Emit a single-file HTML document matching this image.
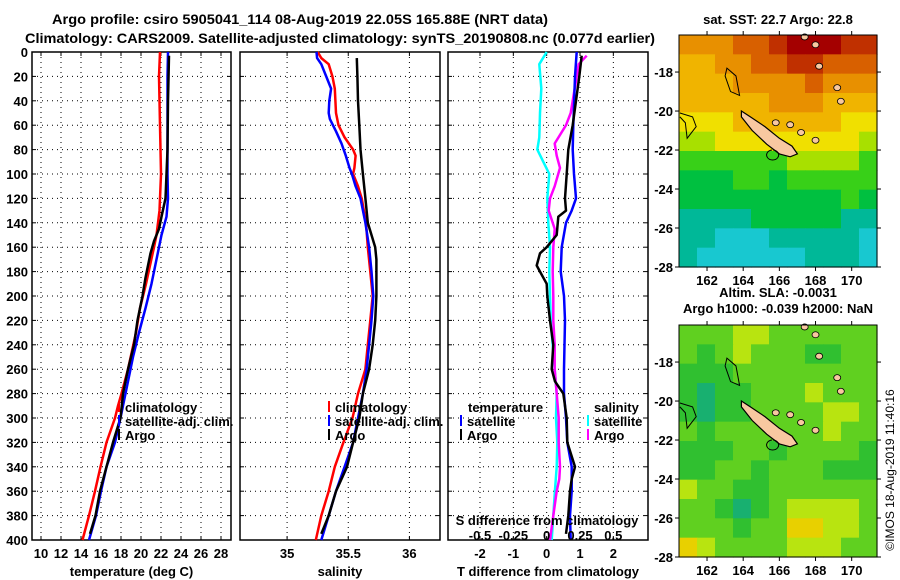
<!DOCTYPE html>
<html><head><meta charset="utf-8"><style>
html,body{margin:0;padding:0;background:#fff;}
svg{display:block;font-family:"Liberation Sans",sans-serif;font-weight:bold;}
</style></head><body>
<svg id="fig" width="900" height="580" viewBox="0 0 900 580" xmlns="http://www.w3.org/2000/svg">
<rect width="900" height="580" fill="#fff"/>
<text x="300" y="24" font-size="14" text-anchor="middle" textLength="496" lengthAdjust="spacingAndGlyphs">Argo profile: csiro 5905041_114 08-Aug-2019 22.05S 165.88E (NRT data)</text>
<text x="340" y="43" font-size="14" text-anchor="middle" textLength="630" lengthAdjust="spacingAndGlyphs">Climatology: CARS2009. Satellite-adjusted climatology: synTS_20190808.nc (0.077d earlier)</text>
<g id="plots"></g>
<text transform="translate(894,470) rotate(-90)" font-size="12" font-weight="normal" text-anchor="middle">©IMOS 18-Aug-2019 11:40:16</text>
</svg>
<script>
// ---------- data ----------
const depthTicks = [0,20,40,60,80,100,120,140,160,180,200,220,240,260,280,300,320,340,360,380,400];
const tempTicks = [10,12,14,16,18,20,22,24,26,28];
const salTicks = [35,35.5,36];
const salTickLabels = ["35","35.5","36"];
const tdiffTicks = [-2,-1,0,1,2];
const sdiffTicks = [-0.5,-0.25,0,0.25,0.5];
const sdiffTickLabels = ["-0.5","-0.25","0","0.25","0.5"];

const climTDepth = [0,20,100,130,150,160,175,190,210,230,260,280,290,300,320,340,360,380,400];
const climTVal   = [21.9,21.8,22.0,21.85,21.55,21.3,20.9,20.5,19.9,19.5,18.7,18.05,17.7,17.4,16.55,15.95,15.4,14.8,14.15];
const satTDepth = [0,20,100,120,135,150,170,190,210,230,250,270,290,300,320,340,360,380,400];
const satTVal   = [22.7,22.65,22.65,22.7,22.55,22.05,21.55,21.05,20.45,19.8,19.2,18.7,18.2,17.95,17.4,16.55,16.0,15.5,14.8];
const argoTDepth = [3,40,80,120,135,145,155,165,175,185,200,220,240,260,280,300,320,340,360,380,395];
const argoTVal   = [22.8,22.7,22.65,22.45,22.05,21.8,21.3,20.95,20.7,20.45,20.15,19.65,19.3,18.7,18.2,17.95,17.2,16.55,15.9,15.45,14.9];

const climSDepth = [0,5,10,20,30,50,60,70,80,85,95,100,110,120,140,160,180,200,220,240,260,280,300,320,340,360,380,400];
const climSVal   = [35.25,35.28,35.34,35.37,35.39,35.40,35.42,35.47,35.54,35.56,35.55,35.54,35.58,35.61,35.645,35.66,35.68,35.70,35.68,35.66,35.64,35.58,35.535,35.46,35.39,35.34,35.28,35.235];
const satSDepth = [0,5,10,20,30,40,50,55,65,75,85,95,100,110,120,140,160,180,200,220,240,260,280,300,320,340,360,380,400];
const satSVal   = [35.24,35.245,35.28,35.32,35.36,35.345,35.34,35.35,35.40,35.445,35.48,35.51,35.53,35.56,35.60,35.64,35.67,35.69,35.705,35.69,35.67,35.65,35.62,35.58,35.54,35.47,35.40,35.34,35.28];
const argoSDepth = [5,20,40,60,80,100,120,140,160,170,200,220,240,260,280,300,320,340,360,380,395];
const argoSVal   = [35.57,35.575,35.58,35.59,35.60,35.62,35.64,35.66,35.72,35.73,35.73,35.72,35.70,35.67,35.62,35.59,35.54,35.49,35.40,35.34,35.28];

const satTdDepth = [0,20,60,80,100,120,130,140,160,180,200,220,260,280,300,320,340,360,380,400];
const satTdVal   = [0.9,0.85,0.8,0.78,0.82,0.88,0.75,0.58,0.45,0.42,0.52,0.55,0.52,0.52,0.58,0.62,0.75,0.75,0.70,0.72];
const argoTdDepth = [3,20,40,60,80,100,120,130,135,150,160,165,175,180,190,200,220,240,260,270,280,300,320,340,350,360,380,395];
const argoTdVal   = [1.05,0.98,0.88,0.78,0.65,0.6,0.55,0.58,0.35,0.3,0.0,-0.2,-0.3,-0.2,0.0,0.02,0.1,0.2,0.15,0.25,0.5,0.6,0.62,0.85,0.75,0.7,0.65,0.58];
const satSdDepth = [0,10,30,50,70,80,90,100,120,140,160,180,200,220,240,260,280,300,320,340,360,380,400];
const satSdVal   = [0,-0.055,-0.04,-0.05,-0.055,-0.07,-0.025,0.02,0.005,0.012,0.025,0.02,0.025,0.03,0.045,0.06,0.075,0.07,0.08,0.075,0.062,0.05,0.038];
const argoSdDepth = [3,10,30,50,60,75,85,95,110,120,130,145,160,180,200,220,240,260,280,300,320,340,350,360,380,400];
const argoSdVal   = [0.3,0.24,0.21,0.18,0.145,0.06,0.075,0.1,0.06,0.025,0.015,0.06,0.05,0.045,0.05,0.05,0.06,0.06,0.075,0.09,0.09,0.1,0.095,0.075,0.05,0.025];

const lonTicks = [162,164,166,168,170];
const latTicks = [-18,-20,-22,-24,-26,-28];
const sstGrid = [
 [7,7,7,8,8,9,10,10,10,9,9],
 [6,6,7,7,8,8,9,9,8,8,8],
 [6,6,6,7,7,7,7,8,7,7,7],
 [6,6,6,6,6,7,7,7,6,6,6],
 [5,5,5,6,6,6,6,6,6,5,5],
 [4,4,5,5,5,5,5,5,5,5,4],
 [3,3,3,3,3,3,4,4,4,4,3],
 [2,2,2,3,3,2,3,3,3,3,3],
 [2,2,2,2,2,2,2,2,2,3,2],
 [1,1,1,1,2,2,2,2,2,1,1],
 [1,1,0,0,0,1,1,1,1,1,0],
 [1,0,0,0,0,0,0,1,1,1,0]];
const slaGrid = [
 [2,2,2,3,3,2,2,2,2,2,2],
 [2,1,2,3,2,2,2,1,1,2,2],
 [1,1,1,2,2,2,2,2,2,2,2],
 [1,0,1,1,2,2,2,3,2,2,2],
 [1,0,1,1,2,2,2,2,3,3,2],
 [2,1,2,2,2,2,2,2,3,2,2],
 [1,1,1,2,2,1,2,2,2,2,1],
 [1,1,2,2,1,2,2,2,1,1,1],
 [3,2,2,1,1,2,2,2,2,2,2],
 [2,2,1,0,1,2,3,3,3,3,2],
 [2,2,2,1,2,2,4,4,3,3,2],
 [4,3,2,2,2,2,3,3,3,2,2]];
const sstColors = ["#18c8d0","#00b898","#00c040","#38d018","#a8e000","#f0e000","#f0b400","#e89000","#d86000","#c03000","#a40000"];
const slaColors = ["#18b070","#30c030","#60d020","#b8e410","#e8d000"];

// ---------- helpers ----------
const NS = "http://www.w3.org/2000/svg";
const root = document.getElementById("plots");
function mk(tag, attrs, parent){ const e=document.createElementNS(NS,tag); for(const k in attrs) e.setAttribute(k,attrs[k]); (parent||root).appendChild(e); return e; }
function txt(x,y,s,size,anchor,parent){ const t=mk("text",{x:x,y:y,"font-size":size,"text-anchor":anchor||"middle"},parent); t.textContent=s; return t; }

const PT=52, PB=540;
const yD = d => PT + d*(PB-PT)/400;

function panel(name, x0, x1, xmin, xmax, ticks, tickLabels, xlabel, showDepth){
  const g = mk("g",{});
  
  
  const xs = v => x0 + (v-xmin)*(x1-x0)/(xmax-xmin);
  depthTicks.forEach(d=>{ if(d>0&&d<400){ const l=mk("line",{x1:x0,x2:x1,y1:yD(d),y2:yD(d),stroke:"#000","stroke-width":1,"stroke-dasharray":"1,4"},g);
      }
    mk("line",{x1:x0,x2:x0+4,y1:yD(d),y2:yD(d),stroke:"#000"},g); mk("line",{x1:x1-4,x2:x1,y1:yD(d),y2:yD(d),stroke:"#000"},g);
    if(showDepth){ const t=txt(28,yD(d)+5,String(d),13,"end",g);
        } });
  ticks.forEach((v,i)=>{ const x=xs(v);
    const l=mk("line",{x1:x,x2:x,y1:PT,y2:PB,stroke:"#000","stroke-width":1,"stroke-dasharray":"1,4"},g);
     
    mk("line",{x1:x,x2:x,y1:PT,y2:PT+4,stroke:"#000"},g); mk("line",{x1:x,x2:x,y1:PB-4,y2:PB,stroke:"#000"},g);
    const t=txt(x,558,tickLabels[i],13,"middle",g);
      });
  const fr=mk("rect",{x:x0,y:PT,width:x1-x0,height:PB-PT,fill:"none",stroke:"#000","stroke-width":1.5},g);
   
  const xl=txt((x0+x1)/2,576,xlabel,13,"middle",g);
   
  return {g,xs};
}
function series(p, depths, vals, color, name, xsFn){
  const f = xsFn || p.xs;
  let d=""; depths.forEach((dp,i)=>{ d+=(i?"L":"M")+f(vals[i]).toFixed(1)+","+yD(dp).toFixed(1); });
  const path=mk("path",{d:d,fill:"none",stroke:color,"stroke-width":2.5,"stroke-linejoin":"round"},p.g);
  
  
}
function legend(g, x, y, color, label){
  mk("line",{x1:x,x2:x,y1:y-11,y2:y,stroke:color,"stroke-width":2},g);
  const t=txt(x+6,y,label,13,"start",g);
  
  
}

const p1 = panel("temperature-panel",32,231,9.1,29,tempTicks,tempTicks.map(String),"temperature (deg C)",true);
series(p1,climTDepth,climTVal,"#f00","climatology-temp-line");
series(p1,satTDepth,satTVal,"#00f","satellite-temp-line");
series(p1,argoTDepth,argoTVal,"#000","argo-temp-line");
legend(p1.g,119,412,"#f00","climatology");
legend(p1.g,119,426,"#00f","satellite-adj. clim.");
legend(p1.g,119,440,"#000","Argo");

const p2 = panel("salinity-panel",240,440,34.615,36.25,salTicks,salTickLabels,"salinity",false);
series(p2,climSDepth,climSVal,"#f00","climatology-salinity-line");
series(p2,satSDepth,satSVal,"#00f","satellite-salinity-line");
series(p2,argoSDepth,argoSVal,"#000","argo-salinity-line");
legend(p2.g,329,412,"#f00","climatology");
legend(p2.g,329,426,"#00f","satellite-adj. clim.");
legend(p2.g,329,440,"#000","Argo");

const p3 = panel("difference-panel",448,648,-2.96,3.04,tdiffTicks,tdiffTicks.map(String),"T difference from climatology",false);
const xsS = v => p3.xs(v*4);
series(p3,satSdDepth,satSdVal,"#0ff","satellite-salinity-diff-line",xsS);
series(p3,argoSdDepth,argoSdVal,"#f0f","argo-salinity-diff-line",xsS);
series(p3,satTdDepth,satTdVal,"#00f","satellite-temp-diff-line");
series(p3,argoTdDepth,argoTdVal,"#000","argo-temp-diff-line");
(function(){ const t=txt(468,412,"temperature",13,"start",p3.g);  
 const s=txt(594,412,"salinity",13,"start",p3.g);  })();
legend(p3.g,461,426,"#00f","satellite");
legend(p3.g,461,440,"#000","Argo");
legend(p3.g,588,426,"#0ff","satellite");
legend(p3.g,588,440,"#f0f","Argo");
(function(){ const t=txt(547,525,"S difference from climatology",13,"middle",p3.g);  
 sdiffTicks.forEach((v,i)=>{ const l=txt(xsS(v),540,sdiffTickLabels[i],13,"middle",p3.g);   }); })();

// ---------- maps ----------
function mapPanel(name, y0, grid, colors, titles){
  const x0=679, x1=877, y1=y0+232;
  const lonMin=160.45, lonMax=171.4, latTop=-16.1, latBot=-28;
  const mx = lon => x0 + (lon-lonMin)*(x1-x0)/(lonMax-lonMin);
  const my = lat => y0 + (latTop-lat)*(y1-y0)/(latTop-latBot);
  const g=mk("g",{});
  
  
  const cols=grid[0].length, rows=grid.length;
  const cw=(x1-x0)/cols, ch=(y1-y0)/rows;
  grid.forEach((row,r)=>row.forEach((v,c)=>{
    const cell=mk("rect",{x:(x0+c*cw).toFixed(2),y:(y0+r*ch).toFixed(2),width:(cw+0.6).toFixed(2),height:(ch+0.6).toFixed(2),fill:colors[v]},g);
    
    
  }));
  const nc=[[163.9,-20.0],[164.4,-20.3],[165.2,-20.8],[166.0,-21.4],[166.7,-21.8],[167.0,-22.2],[166.6,-22.35],[166.0,-22.2],[165.3,-21.7],[164.5,-21.0],[163.9,-20.3]];
  const isl=mk("polygon",{points:nc.map(p=>mx(p[0]).toFixed(1)+","+my(p[1]).toFixed(1)).join(" "),fill:"#f8c8a0",stroke:"#000","stroke-width":1.2},g);
   
  const small=[[167.4,-16.2],[168.0,-16.6],[168.2,-17.7],[169.2,-18.8],[169.4,-19.5],[167.2,-21.1],[168.0,-21.5],[166.6,-20.7],[165.8,-20.6]];
  small.forEach(p=>{ const e=mk("ellipse",{cx:mx(p[0]),cy:my(p[1]),rx:3.5,ry:3,fill:"#f8c8a0",stroke:"#000","stroke-width":0.8},g);
      });
  const reef=mk("path",{d:"M"+mx(163.1)+","+my(-17.8)+"L"+mx(163.6)+","+my(-18.2)+"L"+mx(163.8)+","+my(-19.2)+"L"+mx(163.3)+","+my(-19.0)+"L"+mx(163.0)+","+my(-18.2)+"Z M"+mx(160.5)+","+my(-20.1)+"L"+mx(161.2)+","+my(-20.3)+"L"+mx(161.4)+","+my(-20.8)+"L"+mx(160.9)+","+my(-21.4)+"L"+mx(160.8)+","+my(-20.6)+"L"+mx(160.5)+","+my(-20.3)+" M"+mx(165.6)+","+my(-22.0)+"a6,5 0 1,0 1,0",fill:"none",stroke:"#000","stroke-width":1},g);
   
  const fr=mk("rect",{x:x0,y:y0,width:x1-x0,height:y1-y0,fill:"none",stroke:"#000","stroke-width":1},g);
   
  lonTicks.forEach(l=>{ const x=mx(l); mk("line",{x1:x,x2:x,y1:y0-4,y2:y0,stroke:"#000"},g); mk("line",{x1:x,x2:x,y1:y1,y2:y1+4,stroke:"#000"},g);
    const t=txt(x,y1+18,String(l),13,"middle",g);   });
  latTicks.forEach(l=>{ const y=my(l); mk("line",{x1:x0-4,x2:x0,y1:y,y2:y,stroke:"#000"},g); mk("line",{x1:x1,x2:x1+4,y1:y,y2:y,stroke:"#000"},g);
    const t=txt(673,y+5,String(l),13,"end",g);   });
  titles.forEach((s,i)=>{ const t=txt(778,titles.length==1? y0-11 : y0-28+i*16,s,13,"middle",g);
      });
}
mapPanel("sst-map",35,sstGrid,sstColors,["sat. SST: 22.7 Argo: 22.8"]);
mapPanel("sla-map",325,slaGrid,slaColors,["Altim. SLA: -0.0031","Argo h1000: -0.039 h2000: NaN"]);
</script>
</body></html>
